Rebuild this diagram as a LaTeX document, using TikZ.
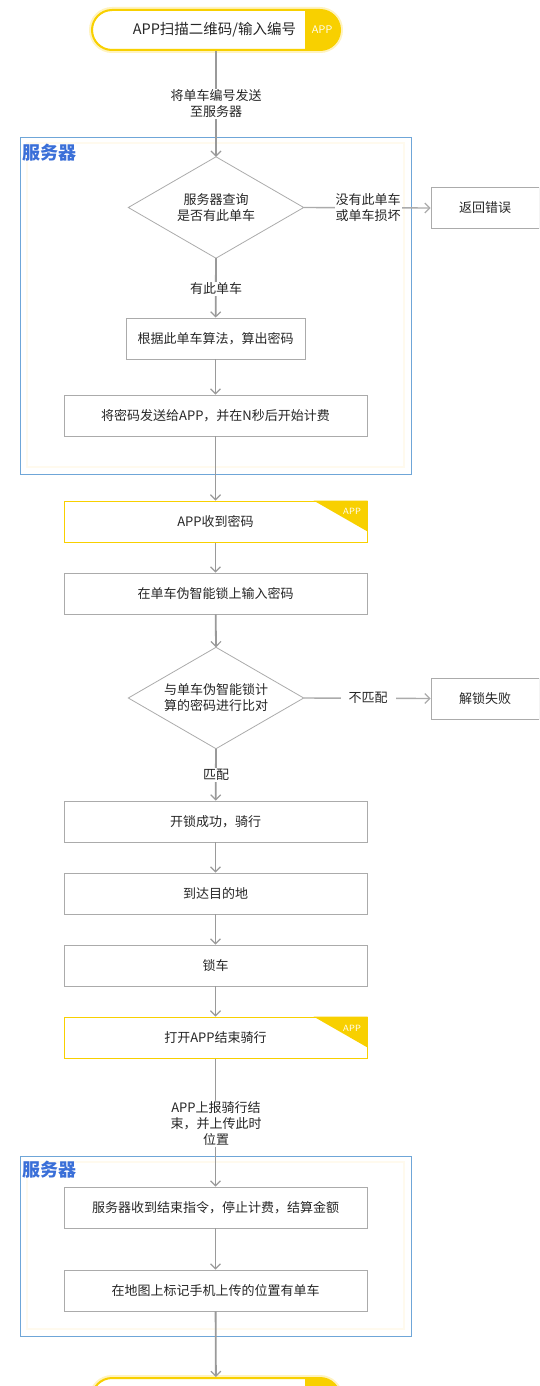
\documentclass[tikz,border=0pt]{standalone}
\usepackage{fontspec}
\newfontfamily\cjk{Noto Sans CJK SC}
\usetikzlibrary{shapes.geometric,arrows.meta}
\definecolor{ln}{HTML}{9A9A9A}
\definecolor{bx}{HTML}{ABABAB}
\definecolor{yl}{HTML}{F8D000}
\definecolor{ylight}{HTML}{FFF3C0}
\definecolor{bl}{HTML}{6FA6D8}
\definecolor{bt}{HTML}{3A6FD8}
\definecolor{cream}{HTML}{FFFAEE}
\tikzset{
  txt/.style={font=\cjk\fontsize{13}{16}\selectfont, text=black!85, align=center},
  box/.style={txt, draw=bx, line width=0.8pt, minimum height=41pt, inner sep=0pt},
  appbox/.style={txt, draw=yl, line width=1pt, minimum height=41pt, minimum width=303pt, inner sep=0pt},
  dia/.style={txt, minimum width=175pt, minimum height=101pt, inner sep=0pt},
  diaedge/.style={draw=bx, line width=0.8pt},
  pill/.style={txt, font=\cjk\fontsize{14.5}{17}\selectfont, draw=yl, line width=2pt, rounded corners=20pt, minimum width=248pt, minimum height=40pt, inner sep=0pt},
  lab/.style={txt, fill=white, inner sep=1pt},
  arr/.style={draw=ln, line width=1.8pt, -{Straight Barb[length=5pt,width=10pt,line width=1.2pt]}},
  harr/.style={draw=bx, line width=1.4pt, -{Straight Barb[length=5pt,width=10pt,line width=1.2pt]}},
  srv/.style={draw=bl, line width=0.9pt},
  srvlab/.style={font=\cjk\bfseries\fontsize{18}{20}\selectfont, text=bt, anchor=west, inner sep=0pt},
  apptag/.style={font=\fontsize{9}{10}\selectfont\sffamily, text=white, inner sep=0pt}
}
\begin{document}
\begin{tikzpicture}[x=1pt,y=-1pt]
\useasboundingbox (0,0) rectangle (539,1386);
\clip (0,0) rectangle (539,1386);

% server frames
\draw[cream, line width=1.5pt] (27,143) rectangle (404,467);
\draw[srv] (20,137) rectangle (411,474);
\node[srvlab] (s1) at (22,153) {服务器};
\draw[cream, line width=1.5pt] (27,1162) rectangle (404,1329);
\draw[srv] (20,1156) rectangle (411,1336);
\node[srvlab] (s2) at (22,1170) {服务器};

% top pill
\draw[ylight, line width=4pt, rounded corners=21pt] (91,9) rectangle (341,51);
\begin{scope}
  \clip[rounded corners=20pt] (92,10) rectangle (340,50);
  \fill[yl] (305,10) rectangle (340,50);
\end{scope}
\node[pill] (start) at (216,30) {\hspace*{-3pt}APP扫描二维码/输入编号};
\node[apptag, font=\fontsize{11}{12}\selectfont\sffamily] (tag0) at (322,30) {APP};

% bottom pill (cut off)
\draw[ylight, line width=4pt, rounded corners=21pt] (91,1377) rectangle (341,1419);
\begin{scope}
  \clip[rounded corners=20pt] (92,1378) rectangle (340,1418);
  \fill[yl] (305,1378) rectangle (340,1418);
\end{scope}
\node[pill] (end) at (216,1398) {};

% nodes
\node[dia] (d1) at (216,207.5) {服务器查询\\是否有此单车};
\draw[diaedge] (d1.north) -- (d1.east) -- (d1.south) -- (d1.west) -- cycle;
\node[box, minimum width=108pt] (err) at (485,208) {返回错误};
\node[box, minimum width=179pt] (b1) at (215.5,338.5) {根据此单车算法，算出密码};
\node[box, minimum width=303pt] (b2) at (215.5,415.5) {将密码发送给APP，并在N秒后开始计费};
\node[appbox] (a1) at (215.5,521.5) {APP收到密码};
\node[box, minimum width=303pt] (b3) at (215.5,593.5) {在单车伪智能锁上输入密码};
\node[dia] (d2) at (216,698) {与单车伪智能锁计\\算的密码进行比对};
\draw[diaedge] (d2.north) -- (d2.east) -- (d2.south) -- (d2.west) -- cycle;
\node[box, minimum width=108pt] (fail) at (485,698.5) {解锁失败};
\node[box, minimum width=303pt] (b4) at (215.5,821.5) {开锁成功，骑行};
\node[box, minimum width=303pt] (b5) at (215.5,893.5) {到达目的地};
\node[box, minimum width=303pt] (b6) at (215.5,965.5) {锁车};
\node[appbox] (a2) at (215.5,1037.5) {打开APP结束骑行};
\node[box, minimum width=303pt] (b7) at (215.5,1207.5) {服务器收到结束指令，停止计费，结算金额};
\node[box, minimum width=303pt] (b8) at (215.5,1290.5) {在地图上标记手机上传的位置有单车};

% APP corner tags
\fill[yl] (a1.north east) -- ([xshift=-54pt]a1.north east) -- ([yshift=-31pt]a1.north east) -- cycle;
\node[apptag] (tag1) at (352,511) {APP};
\fill[yl] (a2.north east) -- ([xshift=-54pt]a2.north east) -- ([yshift=-31pt]a2.north east) -- cycle;
\node[apptag] (tag2) at (352,1028) {APP};

% connectors
\draw[arr] (start) -- (d1.north);
\draw[harr] (d1.east) -- (err.west);
\draw[arr] (d1.south) -- (b1);
\draw[arr] (b1) -- (b2);
\draw[arr] (b2) -- (a1);
\draw[arr] (a1) -- (b3);
\draw[arr] (b3) -- (d2.north);
\draw[harr] (d2.east) -- (fail.west);
\draw[arr] (d2.south) -- (b4);
\draw[arr] (b4) -- (b5);
\draw[arr] (b5) -- (b6);
\draw[arr] (b6) -- (a2);
\draw[arr] (a2) -- (b7);
\draw[arr] (b7) -- (b8);
\draw[arr] (b8) -- (end);

% connector labels
\node[lab] (l1) at (216,104) {将单车编号发送\\至服务器};
\node[lab] (l2) at (368,208) {没有此单车\\或单车损坏};
\node[lab] (l3) at (216,289) {有此单车};
\node[lab, inner xsep=8pt] (l4) at (368,698) {不匹配};
\node[lab] (l5) at (216,775) {匹配};
\node[lab, text width=92pt] (l6) at (216,1124) {APP上报骑行结\\束，并上传此时\\位置};
\end{tikzpicture}
\end{document}
